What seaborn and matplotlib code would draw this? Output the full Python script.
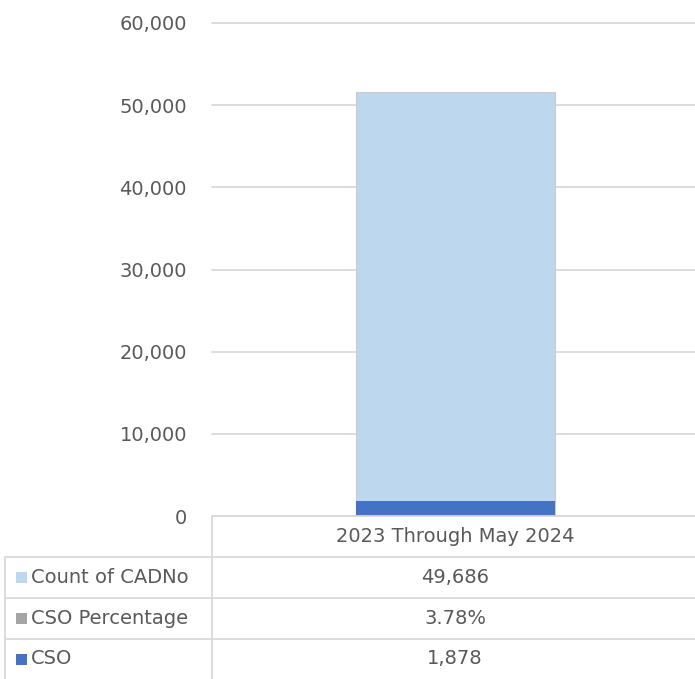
import matplotlib
matplotlib.use("Agg")
import matplotlib.pyplot as plt
from matplotlib.lines import Line2D
from matplotlib.patches import Rectangle
import seaborn as sns
import pandas as pd

# Data
categories = ["2023 Through May 2024"]
count_cadno = [49686]
cso = [1878]
cso_pct = ["3.78%"]
yticks = [0, 10000, 20000, 30000, 40000, 50000, 60000]
series_names = ["Count of CADNo", "CSO Percentage", "CSO"]
series_colors = ["#BDD7EE", "#A5A5A5", "#4472C4"]

TEXT = "#595959"
GRID = "#D9D9D9"
FS = 14

sns.set_theme(style="white")
plt.rcParams["font.family"] = ["DejaVu Sans"]

W, H = 695, 679
fig = plt.figure(figsize=(W / 100, H / 100), dpi=100)

def fx(px):
    return px / W

def fy(py):
    return 1 - py / H

ax = fig.add_axes([fx(212), fy(516), 1 - fx(212) + 0.005, fy(23) - fy(516)])

df = pd.DataFrame({
    "category": categories,
    "total": [c + s for c, s in zip(count_cadno, cso)],
    "cso": cso,
})

# Stacked bar: CSO at the bottom, Count of CADNo on top
sns.barplot(data=df, x="category", y="total", color=series_colors[0],
            width=0.41, saturation=1, ax=ax, edgecolor="#C9CDD2", linewidth=0.8)
sns.barplot(data=df, x="category", y="cso", color=series_colors[2],
            width=0.41, saturation=1, ax=ax, linewidth=0)

ax.set_ylim(0, 60000)
ax.set_xlim(-0.5, 0.5)
ax.set_yticks(yticks)
ax.set_yticklabels([f"{v:,}" for v in yticks], color=TEXT, fontsize=FS)
ax.tick_params(axis="y", length=0, pad=18)
ax.set_xticks([])
ax.set_xlabel("")
ax.set_ylabel("")
ax.yaxis.grid(True, color=GRID, linewidth=1.3)
for gl in ax.get_ygridlines():
    gl.set_clip_on(False)
ax.set_axisbelow(True)
for s in ax.spines.values():
    s.set_visible(False)

# Data table beneath the plot
line_kw = dict(color=GRID, linewidth=1.3, transform=fig.transFigure)
row_y = [516, 557, 598, 639, 679]
fig.add_artist(Line2D([fx(212), 1], [fy(516), fy(516)], **line_kw))
for y in row_y[1:4]:
    fig.add_artist(Line2D([fx(5), 1], [fy(y), fy(y)], **line_kw))
fig.add_artist(Line2D([fx(212), fx(212)], [fy(516), 0], **line_kw))
fig.add_artist(Line2D([fx(5), fx(5)], [fy(557), 0], **line_kw))

col_cx = fx(455)
fig.text(col_cx, fy(537), categories[0], ha="center", va="center",
         color=TEXT, fontsize=FS)

cells = [f"{count_cadno[0]:,}", cso_pct[0], f"{cso[0]:,}"]
for i, (name, color, val) in enumerate(zip(series_names, series_colors, cells)):
    yc = (row_y[i + 1] + row_y[i + 2]) / 2
    fig.add_artist(Rectangle((fx(16), fy(yc + 5.5)), fx(11), fy(yc - 5.5) - fy(yc + 5.5),
                             facecolor=color, edgecolor="none",
                             transform=fig.transFigure))
    fig.text(fx(31), fy(yc), name, ha="left", va="center", color=TEXT, fontsize=FS)
    fig.text(col_cx, fy(yc), val, ha="center", va="center", color=TEXT, fontsize=FS)

fig.savefig("out.png", dpi=100, facecolor="white")
